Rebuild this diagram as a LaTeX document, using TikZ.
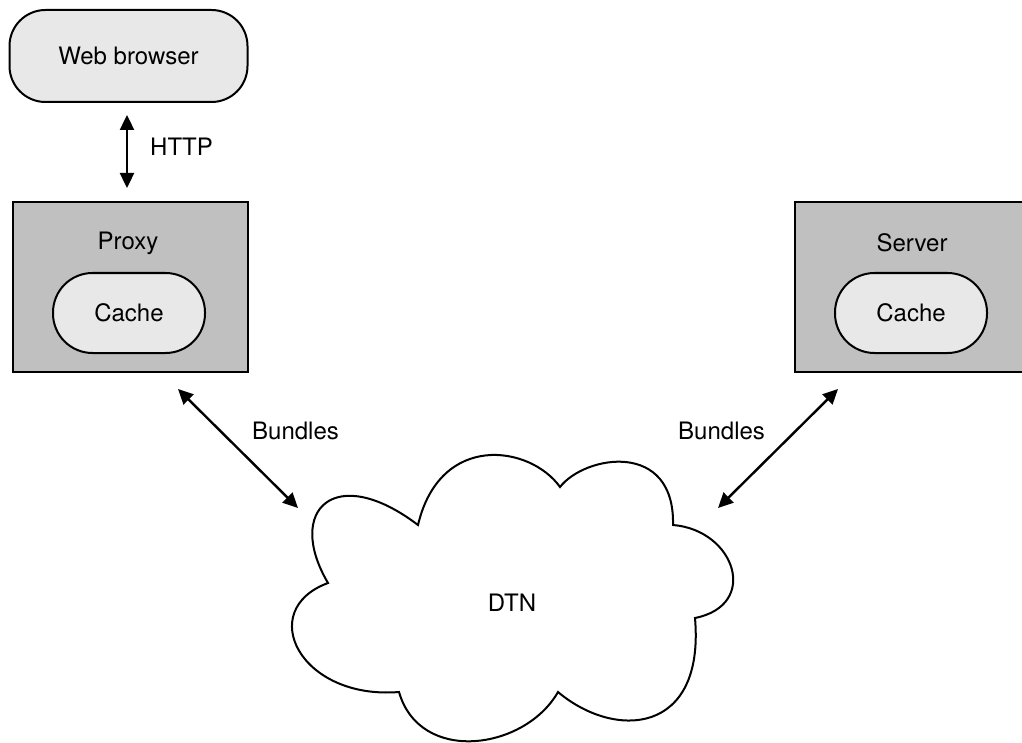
\documentclass[tikz,border=0pt]{standalone}
\usepackage{fontspec}
\setmainfont{TeX Gyre Heros}
\usetikzlibrary{arrows.meta}
\definecolor{boxgray}{HTML}{C0C0C0}
\definecolor{pillfill}{HTML}{E8E8E8}
\begin{document}
\begin{tikzpicture}[x=1pt,y=1pt,
  lbl/.style={font=\fontsize{24}{28}\selectfont, inner sep=0pt},
  pill/.style={draw=black, line width=2pt, fill=pillfill, lbl},
  hostbox/.style={draw=black, line width=2pt, fill=boxgray,
    minimum width=235pt, minimum height=170pt, inner sep=0pt},
  biarrow/.style={line width=2.4pt,
    {Triangle[length=15pt,width=14pt]}-{Triangle[length=15pt,width=14pt]}},
  cloudline/.style={draw=black, line width=2pt, fill=white}
]
\clip (0,0) rectangle (1022,-743);
\useasboundingbox (0,0) rectangle (1022,-743);

% client side
\node[pill, minimum width=238pt, minimum height=92pt, rounded corners=36pt]
  (browser) at (128.5,-56) {Web browser};
\node[hostbox] (proxy) at (130,-287) {};
\node[lbl] (proxylbl) at (128,-243) {Proxy};
\node[pill, minimum width=152pt, minimum height=80pt, rounded corners=39.5pt]
  (pcache) at (129,-313) {Cache};

% server side
\node[hostbox] (server) at (912,-287) {};
\node[lbl] (serverlbl) at (912,-243) {Server};
\node[pill, minimum width=152pt, minimum height=80pt, rounded corners=39.5pt]
  (scache) at (911,-313) {Cache};

% HTTP link
\coordinate (httptop) at (127,-115);
\coordinate (httpbot) at (127,-188);
\draw[biarrow] (httptop) -- (httpbot);
\node[lbl, anchor=west] (http) at (150,-147) {HTTP};

% DTN cloud, one cubic per bump between the cusps
\coordinate (c1) at (418,-525);
\coordinate (c2) at (560,-487);
\coordinate (c3) at (673,-525);
\coordinate (c4) at (695,-618);
\coordinate (c5) at (558,-692);
\coordinate (c6) at (399,-692);
\coordinate (c7) at (328,-583);
\draw[cloudline]
  (c1) .. controls (440,-432) and (530,-445) .. (c2)
       .. controls (585,-455) and (675,-440) .. (c3)
       .. controls (735,-530) and (760,-605) .. (c4)
       .. controls (705,-735) and (615,-740) .. (c5)
       .. controls (525,-750) and (420,-765) .. (c6)
       .. controls (300,-700) and (255,-610) .. (c7)
       .. controls (285,-510) and (335,-462) .. (c1) -- cycle;
\node[lbl] (dtn) at (512,-603) {DTN};

% bundle links
\coordinate (pl) at (178,-389);
\coordinate (cl) at (298,-508);
\coordinate (sr) at (838,-389);
\coordinate (cr) at (718,-508);
\draw[biarrow] (pl) -- (cl);
\draw[biarrow] (sr) -- (cr);
\node[lbl, anchor=west] (bl) at (252,-431) {Bundles};
\node[lbl, anchor=west] (br) at (678,-431) {Bundles};
\end{tikzpicture}
\end{document}
